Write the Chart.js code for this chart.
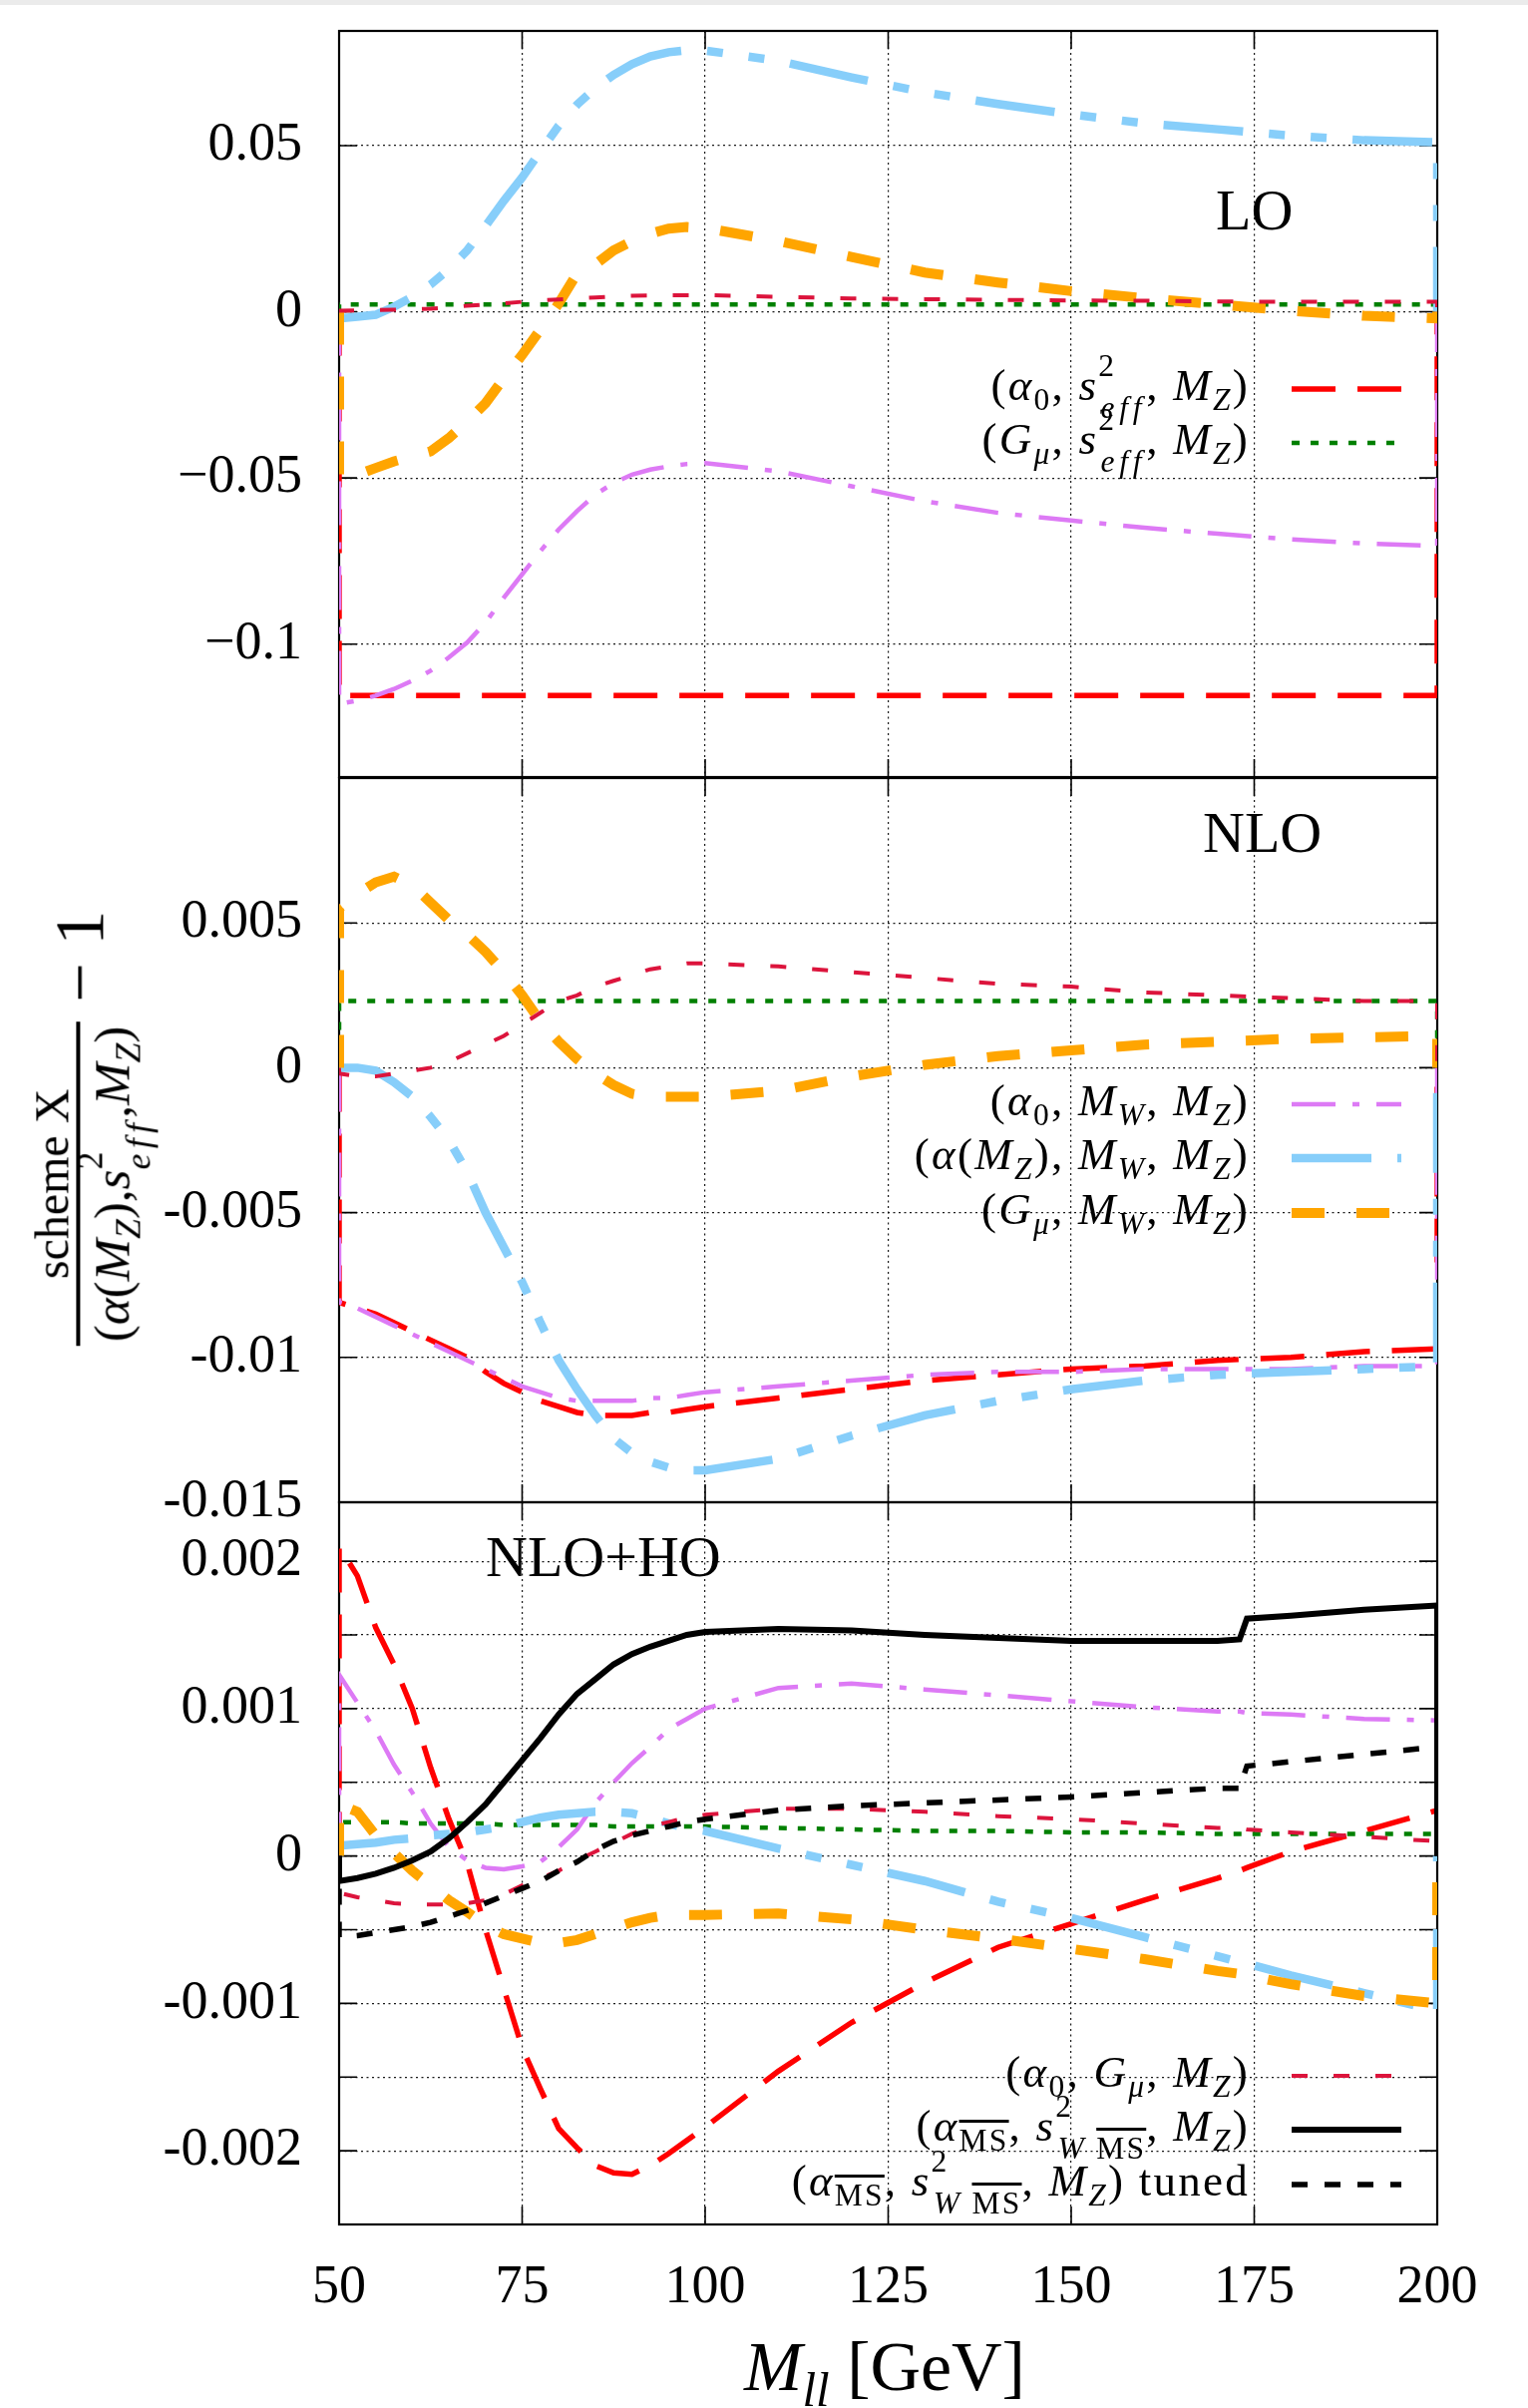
<!DOCTYPE html>
<html>
<head>
<meta charset="utf-8">
<title>Scheme comparison</title>
<script src="https://cdn.jsdelivr.net/npm/chart.js@4.4.1/dist/chart.umd.min.js"></script>
<style>
  html, body { margin: 0; padding: 0; background: #fff; }
  #page { position: relative; width: 1532px; height: 2414px; overflow: hidden;
          font-family: 'Liberation Serif', 'Times New Roman', serif; color: #000; }
  #topbar { position: absolute; left: 0; top: 0; width: 1532px; height: 5px; background: #ebebeb; }
  canvas { position: absolute; left: 0; top: 0; }
  .t { position: absolute; white-space: nowrap; line-height: 1; }
  sub, sup { font-size: 0.7em; line-height: 0; position: relative; vertical-align: baseline; }
  sup { top: -0.75em; }
  sub { top: 0.32em; }
  sub.st { margin-left: -0.5em; top: 0.6em; }
  .eff { letter-spacing: 0.15em; }
  .ov { text-decoration: overline; text-decoration-thickness: 0.08em; }
  .leg { font-size: 45px; right: 279px; text-align: right; letter-spacing: 0.05em; }
  .ttl { font-size: 58px; }
  #xtitle { font-size: 70px; left: 887px; top: 2338px; transform: translateX(-50%); }
  #ytitle { left: 86px; top: 1131px; transform: translate(-50%, -50%) rotate(-90deg);
            display: flex; align-items: center; }
  .frac { display: inline-flex; flex-direction: column; align-items: center; }
  .num { font-size: 48px; line-height: 1.0; }
  .den { font-size: 51px; line-height: 1.2; border-top: 4px solid #000; padding: 2px 4px 0 4px; }
  .m1 { font-size: 70px; margin-left: 20px; position: relative; top: -6px; }
  svg.smp { position: absolute; overflow: visible; }
</style>
</head>
<body>
<div id="page">
  <div id="topbar"></div>
  <canvas id="cLO" width="1532" height="2414"></canvas>
  <canvas id="cNLO" width="1532" height="2414"></canvas>
  <canvas id="cHO" width="1532" height="2414"></canvas>

  <div class="t ttl" style="left:1219px; top:182px;">LO</div>
  <div class="t ttl" style="left:1206px; top:806px;">NLO</div>
  <div class="t ttl" style="left:487px; top:1532px;">NLO+HO</div>

  <div id="xtitle" class="t"><i>M</i><sub><i>ll</i></sub> [GeV]</div>
  <div id="ytitle" class="t"><span class="frac"><span class="num">scheme X</span><span class="den">(<i>α</i>(<i>M</i><sub><i>Z</i></sub>),<i>s</i><sup>2</sup><sub class="st"><i class="eff">eff</i></sub>,<i>M</i><sub><i>Z</i></sub>)</span></span><span class="m1">− 1</span></div>
  <div id="legends"></div>
</div>

<script>
// Invariant-mass grid (GeV) shared by the LO and NLO panels
const MASS = [50, 52.5, 55, 57.5, 60, 62.5, 65, 67.5, 70, 72.5, 75, 77.5, 80, 82.5, 85, 87.5, 90, 92.5, 95, 97.5, 100,
              110, 120, 130, 140, 150, 160, 170, 180, 190, 200];
// Grid for the NLO+HO panel (extra points around the top-threshold step)
const MASS_HO = [50, 52.5, 55, 57.5, 60, 62.5, 65, 67.5, 70, 72.5, 75, 77.5, 80, 82.5, 85, 87.5, 90, 92.5, 95, 97.5, 100,
                 110, 120, 130, 140, 150, 160, 170, 173, 174, 180, 190, 200];

// ---- LO: ratio to (alpha(MZ), s2eff, MZ) minus one ----
const LO_A0_SEFF = [-0.1155, -0.1155, -0.1155, -0.1155, -0.1155, -0.1155, -0.1155, -0.1155, -0.1155, -0.1155, -0.1155,
                    -0.1155, -0.1155, -0.1155, -0.1155, -0.1155, -0.1155, -0.1155, -0.1155, -0.1155, -0.1155,
                    -0.1155, -0.1155, -0.1155, -0.1155, -0.1155, -0.1155, -0.1155, -0.1155, -0.1155, -0.1155];
const LO_GMU_SEFF = [0.0022, 0.0022, 0.0022, 0.0022, 0.0022, 0.0022, 0.0022, 0.0022, 0.0022, 0.0022, 0.0022,
                     0.0022, 0.0022, 0.0022, 0.0022, 0.0022, 0.0022, 0.0022, 0.0022, 0.0022, 0.0022,
                     0.0022, 0.0022, 0.0022, 0.0022, 0.0022, 0.0022, 0.0022, 0.0022, 0.0022, 0.0022];
const LO_A0_MW = [-0.118, -0.117, -0.1155, -0.1135, -0.111, -0.108, -0.104, -0.0995, -0.0935, -0.086, -0.079,
                  -0.072, -0.0655, -0.060, -0.055, -0.0515, -0.049, -0.0475, -0.0465, -0.0458, -0.0455,
                  -0.048, -0.0525, -0.057, -0.0605, -0.0628, -0.065, -0.0668, -0.0685, -0.0697, -0.0705];
const LO_AMZ_MW = [-0.002, -0.0015, -0.0009, 0.0015, 0.0045, 0.0082, 0.0128, 0.0185, 0.0258, 0.0334, 0.0404,
                   0.0483, 0.056, 0.0623, 0.0673, 0.0713, 0.0745, 0.0768, 0.0781, 0.0787, 0.0786,
                   0.0755, 0.0705, 0.066, 0.0625, 0.0594, 0.0567, 0.0549, 0.053, 0.0516, 0.051];
const LO_GMU_MW = [-0.050, -0.049, -0.047, -0.045, -0.0435, -0.042, -0.038, -0.033, -0.0275, -0.020, -0.013,
                   -0.0053, 0.0025, 0.0115, 0.0143, 0.0185, 0.0212, 0.0235, 0.025, 0.0255, 0.0252,
                   0.0213, 0.0165, 0.0118, 0.0088, 0.0062, 0.0041, 0.0022, 0.0003, -0.0012, -0.002];
const LO_A0_GMU = [0.0003, 0.0004, 0.0005, 0.0006, 0.0007, 0.0009, 0.0013, 0.0018, 0.0022, 0.0025, 0.003,
                   0.0034, 0.0037, 0.004, 0.0043, 0.0046, 0.0048, 0.0049, 0.005, 0.005, 0.005,
                   0.0045, 0.004, 0.0038, 0.0036, 0.0034, 0.0033, 0.0031, 0.003, 0.003, 0.003];

// ---- NLO ----
const NLO_A0_SEFF = [-0.0081, -0.0083, -0.0085, -0.0088, -0.0091, -0.0094, -0.0097, -0.0100, -0.0105, -0.0109, -0.0112,
                     -0.0115, -0.0117, -0.0119, -0.0120, -0.0120, -0.0120, -0.0119, -0.0119, -0.0118, -0.0117,
                     -0.0114, -0.0111, -0.0108, -0.0106, -0.0104, -0.0103, -0.0101, -0.0100, -0.0098, -0.0097];
const NLO_GMU_SEFF = [0.0023, 0.0023, 0.0023, 0.0023, 0.0023, 0.0023, 0.0023, 0.0023, 0.0023, 0.0023, 0.0023,
                      0.0023, 0.0023, 0.0023, 0.0023, 0.0023, 0.0023, 0.0023, 0.0023, 0.0023, 0.0023,
                      0.0023, 0.0023, 0.0023, 0.0023, 0.0023, 0.0023, 0.0023, 0.0023, 0.0023, 0.0023];
const NLO_A0_MW = [-0.0081, -0.0083, -0.0086, -0.0089, -0.0092, -0.0095, -0.0098, -0.0101, -0.0104, -0.0107, -0.0110,
                   -0.0112, -0.0114, -0.0115, -0.0115, -0.0115, -0.0115, -0.0114, -0.0114, -0.0113, -0.0112,
                   -0.0110, -0.0108, -0.0106, -0.0105, -0.0105, -0.0104, -0.0104, -0.0104, -0.0103, -0.0103];
const NLO_AMZ_MW = [0.0, 0.0, -0.0001, -0.0005, -0.001, -0.0017, -0.0025, -0.0036, -0.005, -0.0062, -0.0074,
                    -0.0088, -0.0101, -0.0111, -0.012, -0.0128, -0.0133, -0.0136, -0.0138, -0.0139, -0.0139,
                    -0.0135, -0.0127, -0.012, -0.0115, -0.0111, -0.0108, -0.0106, -0.0105, -0.0104, -0.0103];
const NLO_GMU_MW = [0.0055, 0.006, 0.0064, 0.0066, 0.0063, 0.0057, 0.0051, 0.0046, 0.004, 0.0033, 0.0025,
                    0.0016, 0.0009, 0.0003, -0.0002, -0.0006, -0.0009, -0.001, -0.001, -0.001, -0.001,
                    -0.0008, -0.0003, 0.0001, 0.0004, 0.0006, 0.0008, 0.0009, 0.001, 0.00105, 0.0011];
const NLO_A0_GMU = [-0.0002, -0.0003, -0.0003, -0.0002, -0.0001, 0.0, 0.0002, 0.0005, 0.0008, 0.0011, 0.0015,
                    0.0019, 0.0023, 0.0025, 0.0028, 0.003, 0.0032, 0.0034, 0.0035, 0.0036, 0.0036,
                    0.0035, 0.0033, 0.0031, 0.0029, 0.0028, 0.0026, 0.0025, 0.0024, 0.0023, 0.0023];

// ---- NLO + higher orders ----
const HO_A0_SEFF = [0.0021, 0.0019, 0.00155, 0.0013, 0.001, 0.0006, 0.00025, -0.00005, -0.0005, -0.0009, -0.0013,
                    -0.00158, -0.00185, -0.00198, -0.0021, -0.00215, -0.00216, -0.0021, -0.00202, -0.00193, -0.00184,
                    -0.00146, -0.00113, -0.00086, -0.00062, -0.00046, -0.0003, -0.00015, -0.0001, -0.00008, 0.00003, 0.00017, 0.00031];
const HO_GMU_SEFF = [0.00023, 0.00023, 0.00023, 0.00023, 0.00022, 0.00022, 0.00022, 0.00022, 0.00022, 0.00021, 0.00021,
                     0.00021, 0.00021, 0.00021, 0.00021, 0.0002, 0.0002, 0.0002, 0.0002, 0.0002, 0.0002,
                     0.00019, 0.00018, 0.00017, 0.00017, 0.00016, 0.00016, 0.00015, 0.00015, 0.00015, 0.00015, 0.00015, 0.00015];
const HO_A0_MW = [0.00123, 0.00104, 0.00085, 0.00062, 0.00043, 0.00022, 0.00006, -0.00003, -0.00008, -0.00009, -0.00007,
                  -0.00004, 0.00006, 0.00018, 0.00036, 0.0005, 0.00063, 0.00074, 0.00086, 0.00093, 0.001,
                  0.00114, 0.00117, 0.00113, 0.00109, 0.00105, 0.00101, 0.00098, 0.00098, 0.00097, 0.00096, 0.00093, 0.00092];
const HO_AMZ_MW = [0.00007, 0.00008, 0.00009, 0.00011, 0.00012, 0.00014, 0.00015, 0.00016, 0.00018, 0.0002, 0.00023,
                   0.00026, 0.00028, 0.00029, 0.0003, 0.0003, 0.00029, 0.00026, 0.00022, 0.00019, 0.00017,
                   0.00005, -0.00006, -0.00017, -0.00031, -0.00042, -0.00055, -0.00068, -0.00072, -0.00073, -0.00081, -0.00093, -0.00105];
const HO_GMU_MW = [0.00035, 0.0003, 0.00014, 0.00002, -0.0001, -0.0002, -0.0003, -0.00038, -0.00047, -0.00053, -0.00056,
                   -0.00059, -0.00059, -0.00057, -0.00053, -0.00049, -0.00045, -0.00042, -0.0004, -0.0004, -0.0004,
                   -0.00039, -0.00043, -0.0005, -0.00056, -0.00063, -0.0007, -0.00078, -0.0008, -0.00081, -0.00087, -0.00095, -0.001];
const HO_A0_GMU = [-0.00025, -0.00028, -0.0003, -0.00032, -0.00033, -0.00033, -0.00033, -0.00032, -0.0003, -0.00026, -0.0002,
                   -0.00015, -0.0001, -0.00003, 0.00003, 0.00009, 0.00015, 0.0002, 0.00023, 0.00026, 0.00028,
                   0.00032, 0.00032, 0.0003, 0.00027, 0.00025, 0.00022, 0.00019, 0.00019, 0.00018, 0.00016, 0.00013, 0.0001];
const HO_MSBAR = [-0.00017, -0.00015, -0.00012, -0.00008, -0.00003, 0.00003, 0.00012, 0.00023, 0.00035, 0.0005, 0.00065,
                  0.0008, 0.00096, 0.0011, 0.0012, 0.0013, 0.00137, 0.00142, 0.00146, 0.0015, 0.00152,
                  0.00154, 0.00153, 0.0015, 0.00148, 0.00146, 0.00146, 0.00146, 0.00147, 0.00161, 0.00163, 0.00167, 0.0017];
const HO_MSBAR_TUNED = [-0.00055, -0.00054, -0.00052, -0.0005, -0.00048, -0.00045, -0.00041, -0.00037, -0.00032, -0.00027, -0.00022,
                        -0.00017, -0.0001, -0.00004, 0.00004, 0.0001, 0.00014, 0.00017, 0.0002, 0.00023, 0.00025,
                        0.00031, 0.00034, 0.00036, 0.00038, 0.0004, 0.00043, 0.00046, 0.00046, 0.00061, 0.00064, 0.00069, 0.00074];

// Axis ticks and their printed labels
const X_TICKS = [50, 75, 100, 125, 150, 175, 200];
const X_TICK_LABELS = ['50', '75', '100', '125', '150', '175', '200'];
const LO_Y_TICKS = [-0.1, -0.05, 0, 0.05];
const LO_Y_LABELS = ['\u22120.1', '\u22120.05', '0', '0.05'];
const NLO_Y_TICKS = [-0.015, -0.01, -0.005, 0, 0.005];
const NLO_Y_LABELS = ['-0.015', '-0.01', '-0.005', '0', '0.005'];
const HO_Y_TICKS = [-0.002, -0.0015, -0.001, -0.0005, 0, 0.0005, 0.001, 0.0015, 0.002];
const HO_Y_LABELS = ['-0.002', '', '-0.001', '', '0', '', '0.001', '', '0.002'];

// Histogram-style curves start and end on the zero line
const BASELINE = 0;

// Line styles per input scheme
const STYLE = {
  a0_seff:     { color: '#ff0000', width: 5.5, dash: [44, 22] },
  gmu_seff:    { color: '#008000', width: 4.5, dash: [8, 11] },
  a0_mw:       { color: '#dd7af5', width: 4.5, dash: [44, 17, 7, 17] },
  amz_mw:      { color: '#87cefa', width: 8.5, dash: [80, 26, 16, 26, 16, 26] },
  gmu_mw:      { color: '#ffa500', width: 10,  dash: [33, 32] },
  a0_gmu:      { color: '#dc143c', width: 4,   dash: [16, 26] },
  msbar:       { color: '#000000', width: 6,   dash: [] },
  msbar_tuned: { color: '#000000', width: 5.5, dash: [16, 17] }
};

// Legend labels (math typeset as HTML)
const LEGEND_TEXT = {
  a0_seff:  '(<i>α</i><sub>0</sub>, <i>s</i><sup>2</sup><sub class="st"><i class="eff">eff</i></sub>, <i>M</i><sub><i>Z</i></sub>)',
  gmu_seff: '(<i>G</i><sub><i>μ</i></sub>, <i>s</i><sup>2</sup><sub class="st"><i class="eff">eff</i></sub>, <i>M</i><sub><i>Z</i></sub>)',
  a0_mw:    '(<i>α</i><sub>0</sub>, <i>M</i><sub><i>W</i></sub>, <i>M</i><sub><i>Z</i></sub>)',
  amz_mw:   '(<i>α</i>(<i>M</i><sub><i>Z</i></sub>), <i>M</i><sub><i>W</i></sub>, <i>M</i><sub><i>Z</i></sub>)',
  gmu_mw:   '(<i>G</i><sub><i>μ</i></sub>, <i>M</i><sub><i>W</i></sub>, <i>M</i><sub><i>Z</i></sub>)',
  a0_gmu:   '(<i>α</i><sub>0</sub>, <i>G</i><sub><i>μ</i></sub>, <i>M</i><sub><i>Z</i></sub>)',
  msbar:    '(<i>α</i><sub><span class="ov">MS</span></sub>, <i>s</i><sup>2</sup><sub class="st"><i>W</i> <span class="ov">MS</span></sub>, <i>M</i><sub><i>Z</i></sub>)',
  msbar_tuned: '(<i>α</i><sub><span class="ov">MS</span></sub>, <i>s</i><sup>2</sup><sub class="st"><i>W</i> <span class="ov">MS</span></sub>, <i>M</i><sub><i>Z</i></sub>) tuned'
};

// Page layout (pixels)
const PAGE_W = 1532, PAGE_H = 2414;
const PLOT_LEFT = 340, PLOT_RIGHT = 1441;
const TICK_LEN = 18;
const TICK_FONT = { family: "'Liberation Serif', 'Times New Roman', serif", size: 54 };
const LEGEND_FONT_PX = 45;
const LEGEND_SAMPLE_X = 1295, LEGEND_SAMPLE_W = 110;

const PANELS = [
  { canvas: 'cLO', mass: MASS, top: 31, bottom: 779, xAxisH: 0, showX: false,
    yMin: -0.14, yMax: 0.0845, yTicks: LO_Y_TICKS, yLabels: LO_Y_LABELS,
    series: [['a0_seff', LO_A0_SEFF], ['gmu_seff', LO_GMU_SEFF], ['a0_mw', LO_A0_MW],
             ['amz_mw', LO_AMZ_MW], ['gmu_mw', LO_GMU_MW], ['a0_gmu', LO_A0_GMU]],
    legend: [['a0_seff', 390], ['gmu_seff', 444]] },
  { canvas: 'cNLO', mass: MASS, top: 780, bottom: 1506, xAxisH: 0, showX: false,
    yMin: -0.015, yMax: 0.01, yTicks: NLO_Y_TICKS, yLabels: NLO_Y_LABELS,
    series: [['a0_seff', NLO_A0_SEFF], ['gmu_seff', NLO_GMU_SEFF], ['a0_mw', NLO_A0_MW],
             ['amz_mw', NLO_AMZ_MW], ['gmu_mw', NLO_GMU_MW], ['a0_gmu', NLO_A0_GMU]],
    legend: [['a0_mw', 1107], ['amz_mw', 1161], ['gmu_mw', 1216]] },
  { canvas: 'cHO', mass: MASS_HO, top: 1506, bottom: 2230, xAxisH: 100, showX: true,
    yMin: -0.0025, yMax: 0.0024, yTicks: HO_Y_TICKS, yLabels: HO_Y_LABELS,
    series: [['a0_seff', HO_A0_SEFF], ['gmu_seff', HO_GMU_SEFF], ['a0_mw', HO_A0_MW],
             ['amz_mw', HO_AMZ_MW], ['gmu_mw', HO_GMU_MW], ['a0_gmu', HO_A0_GMU],
             ['msbar', HO_MSBAR], ['msbar_tuned', HO_MSBAR_TUNED]],
    legend: [['a0_gmu', 2081], ['msbar', 2135], ['msbar_tuned', 2190]] }
];

function withBaseline(xs, ys) {
  const pts = xs.map((x, i) => ({ x, y: ys[i] }));
  return [{ x: xs[0], y: BASELINE }, ...pts, { x: xs[xs.length - 1], y: BASELINE }];
}

// Closed frame with inward tick marks on all four sides
const framePlugin = {
  id: 'frame',
  beforeDatasetsDraw(chart) {
    const { ctx, chartArea: a, scales: { x, y } } = chart;
    ctx.save();
    ctx.setLineDash([]);
    ctx.strokeStyle = '#000';
    ctx.lineWidth = 1.6;
    ctx.beginPath();
    x.ticks.forEach(t => {
      const px = x.getPixelForValue(t.value);
      ctx.moveTo(px, a.bottom); ctx.lineTo(px, a.bottom - TICK_LEN);
      ctx.moveTo(px, a.top); ctx.lineTo(px, a.top + TICK_LEN);
    });
    y.ticks.forEach(t => {
      const py = y.getPixelForValue(t.value);
      ctx.moveTo(a.left, py); ctx.lineTo(a.left + TICK_LEN, py);
      ctx.moveTo(a.right, py); ctx.lineTo(a.right - TICK_LEN, py);
    });
    ctx.stroke();
    ctx.lineWidth = 2.2;
    ctx.strokeRect(a.left, a.top, a.right - a.left, a.bottom - a.top);
    ctx.restore();
  }
};

const GRID = { color: 'rgba(0,0,0,0.9)', lineWidth: 1.2, drawTicks: false };
const GRID_BORDER = { display: false, dash: [2, 3.5] };

// Axis boxes are fixed so that every panel shares the same plot rectangle
function fixAxisBox(size, horizontal) {
  return s => {
    if (horizontal) { s.height = size; s.paddingLeft = 0; s.paddingRight = 0; }
    else { s.width = size; s.paddingTop = 0; s.paddingBottom = 0; }
  };
}

function buildPanel(p) {
  const n = p.series.length;
  const datasets = p.series.map(([scheme, values], i) => {
    const st = STYLE[scheme];
    return {
      label: scheme,
      data: withBaseline(p.mass, values),
      borderColor: st.color,
      borderWidth: st.width,
      borderDash: st.dash,
      borderCapStyle: 'butt',
      borderJoinStyle: 'miter',
      pointRadius: 0,
      fill: false,
      tension: 0,
      order: n - i
    };
  });
  return new Chart(document.getElementById(p.canvas), {
    type: 'line',
    data: { datasets },
    options: {
      responsive: false,
      animation: false,
      events: [],
      layout: { padding: { left: 0, right: PAGE_W - PLOT_RIGHT, top: p.top, bottom: PAGE_H - p.bottom - p.xAxisH } },
      plugins: { legend: { display: false }, tooltip: { enabled: false } },
      scales: {
        x: {
          type: 'linear', min: 50, max: 200,
          afterBuildTicks: s => { s.ticks = X_TICKS.map(v => ({ value: v })); },
          afterFit: fixAxisBox(p.xAxisH, true),
          grid: GRID, border: GRID_BORDER,
          ticks: { display: p.showX, autoSkip: false, maxRotation: 0, padding: 31,
                   font: TICK_FONT, color: '#000', callback: (v, i) => X_TICK_LABELS[i] }
        },
        y: {
          type: 'linear', min: p.yMin, max: p.yMax,
          afterBuildTicks: s => { s.ticks = p.yTicks.map(v => ({ value: v })); },
          afterFit: fixAxisBox(PLOT_LEFT, false),
          grid: GRID, border: GRID_BORDER,
          ticks: { autoSkip: false, padding: 37, font: TICK_FONT, color: '#000',
                   callback: (v, i) => p.yLabels[i] }
        }
      }
    },
    plugins: [framePlugin]
  });
}

function buildLegend(p) {
  const host = document.getElementById('legends');
  const SVG = 'http://www.w3.org/2000/svg';
  p.legend.forEach(([scheme, rowY]) => {
    const txt = document.createElement('div');
    txt.className = 't leg';
    txt.style.top = (rowY - (0.8375 - 0.25) * LEGEND_FONT_PX) + 'px';
    txt.innerHTML = LEGEND_TEXT[scheme];
    host.appendChild(txt);

    const st = STYLE[scheme];
    const svg = document.createElementNS(SVG, 'svg');
    svg.setAttribute('class', 'smp');
    svg.setAttribute('width', LEGEND_SAMPLE_W);
    svg.setAttribute('height', 20);
    svg.style.left = LEGEND_SAMPLE_X + 'px';
    svg.style.top = (rowY - 10) + 'px';
    const ln = document.createElementNS(SVG, 'line');
    ln.setAttribute('x1', 0); ln.setAttribute('y1', 10);
    ln.setAttribute('x2', LEGEND_SAMPLE_W); ln.setAttribute('y2', 10);
    ln.setAttribute('stroke', st.color);
    ln.setAttribute('stroke-width', st.width);
    if (st.dash.length) ln.setAttribute('stroke-dasharray', st.dash.join(' '));
    svg.appendChild(ln);
    host.appendChild(svg);
  });
}

PANELS.forEach(p => { buildPanel(p); buildLegend(p); });
</script>
</body>
</html>
